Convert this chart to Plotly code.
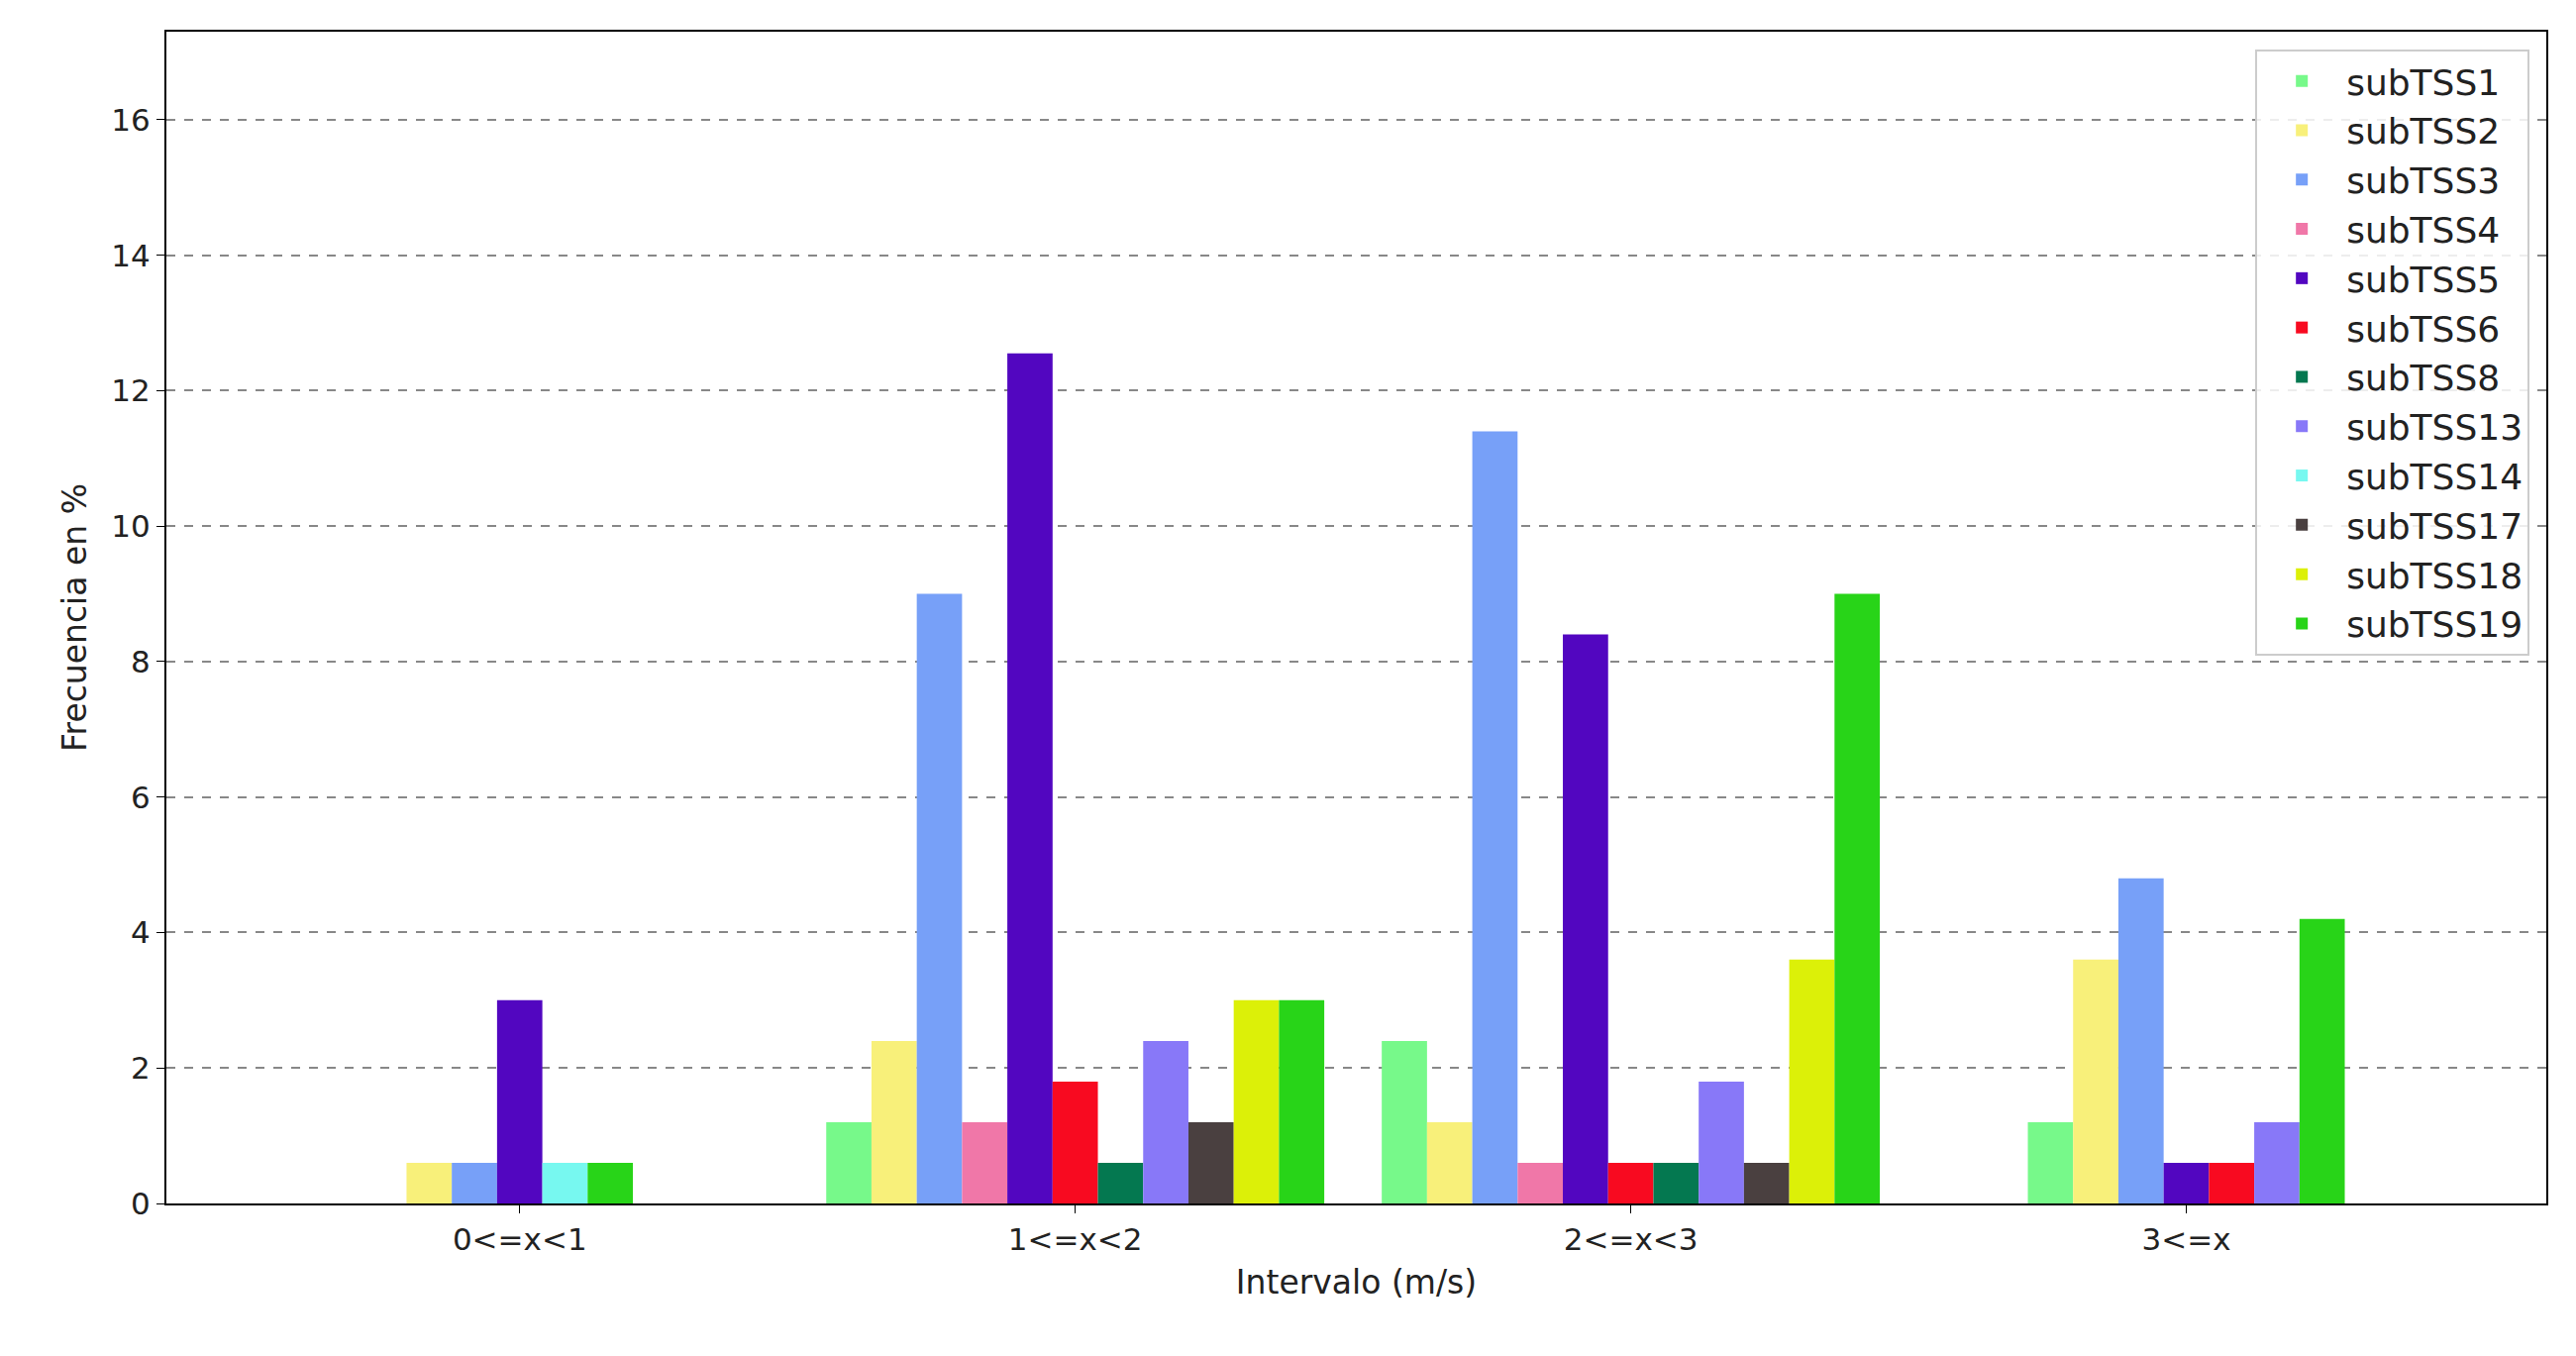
import plotly.graph_objects as go

groups = ["0<=x<1", "1<=x<2", "2<=x<3", "3<=x"]
series = ["subTSS1", "subTSS2", "subTSS3", "subTSS4", "subTSS5", "subTSS6",
          "subTSS8", "subTSS13", "subTSS14", "subTSS17", "subTSS18", "subTSS19"]
values = {
    "subTSS1": [0, 1.2, 2.4, 1.2],
    "subTSS2": [0.6, 2.4, 1.2, 3.6],
    "subTSS3": [0.6, 9.0, 11.4, 4.8],
    "subTSS4": [0, 1.2, 0.6, 0],
    "subTSS5": [3.0, 12.55, 8.4, 0.6],
    "subTSS6": [0, 1.8, 0.6, 0.6],
    "subTSS8": [0, 0.6, 0.6, 0],
    "subTSS13": [0, 2.4, 1.8, 1.2],
    "subTSS14": [0.6, 0, 0, 0],
    "subTSS17": [0, 1.2, 0.6, 0],
    "subTSS18": [0, 3.0, 3.6, 0],
    "subTSS19": [0.6, 3.0, 9.0, 4.2],
}
colors = ["#77f98a", "#f8f07a", "#77a0f8", "#f077a8", "#5206c0", "#f80a20",
          "#047850", "#8878f8", "#77f8f0", "#4a4040", "#dcf008", "#28d418"]

w = 0.0815
# only non-zero bars are drawn, centred within each group
xpos = {s: [None] * len(groups) for s in series}
for g in range(len(groups)):
    present = [s for s in series if values[s][g] > 0]
    n = len(present)
    for k, s in enumerate(present):
        xpos[s][g] = g + (k - (n - 1) / 2) * w

fig = go.Figure()
for s, c in zip(series, colors):
    xs = [x for x in xpos[s] if x is not None]
    ys = [v for v, x in zip(values[s], xpos[s]) if x is not None]
    fig.add_trace(go.Bar(x=xs, y=ys, width=w, name=s, marker_color=c,
                         marker_line_width=0))

axis_common = dict(showline=True, linecolor="black", linewidth=2, mirror=True,
                   ticks="outside", ticklen=8, tickcolor="black",
                   tickfont=dict(size=31, color="#222"), zeroline=False)
fig.update_xaxes(range=[-0.636, 3.648], tickvals=list(range(len(groups))),
                 ticktext=groups, showgrid=False,
                 title=dict(text="Intervalo (m/s)", font=dict(size=33, color="#222")),
                 **axis_common)
fig.update_yaxes(range=[0, 17.3], tickvals=list(range(0, 17, 2)),
                 showgrid=True, gridcolor="#888", griddash="dash", gridwidth=1.5,
                 title=dict(text="Frecuencia en %", font=dict(size=33, color="#222")),
                 **axis_common)
fig.update_layout(
    width=2601, height=1369, plot_bgcolor="white", paper_bgcolor="white",
    font=dict(family="DejaVu Sans"), barmode="overlay",
    margin=dict(l=160, r=38, t=24, b=162),
    legend=dict(x=0.993, y=0.985, xanchor="right", yanchor="top",
                bordercolor="#ccc", borderwidth=2, bgcolor="rgba(255,255,255,0.85)",
                font=dict(size=36, color="#222"), itemwidth=80,
                tracegroupgap=0),
)
fig.write_html("out.html")
